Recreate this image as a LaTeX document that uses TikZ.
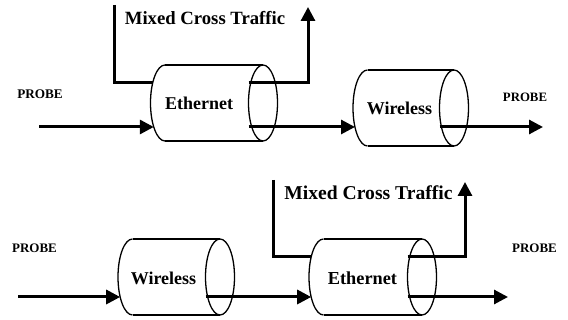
\documentclass[tikz,border=0pt]{standalone}
\usepackage{fontspec}
\setmainfont{Liberation Serif}
\usetikzlibrary{arrows.meta}

% pipe drawn as a cylinder: #1 left cap centre x, #2 right cap centre x, #3 centre y
\newcommand\drawpipe[3]{%
  \draw[pipeline] (#1,#3+38) -- (#2,#3+38)
                  (#1,#3-38) -- (#2,#3-38);
  \draw[pipeline] (#1,#3+38) arc[start angle=90,end angle=270,x radius=14.5,y radius=38];
  \draw[pipeline] (#2,#3) ellipse[x radius=14.5,y radius=38];
}

\begin{document}
\begin{tikzpicture}[x=1pt,y=1pt,
  pipeline/.style={line width=1.3pt},
  flow/.style={line width=3pt,-{Triangle[length=14pt,width=14pt]}},
  feed/.style={line width=3pt},
  label/.style={inner sep=0pt,font=\bfseries}]
\useasboundingbox (0,0) rectangle (568,320);

% ---------- upper path: Ethernet then Wireless ----------
\drawpipe{165}{263}{217}
\drawpipe{367.5}{454}{212}

\node[label,font=\bfseries\fontsize{18}{20}\selectfont] (eth1) at (199,217) {Ethernet};
\node[label,font=\bfseries\fontsize{18}{20}\selectfont] (wl1) at (399.5,212) {Wireless};
\node[label,font=\bfseries\fontsize{18.7}{20}\selectfont] (mix1) at (205,302) {Mixed Cross Traffic};
\node[label,font=\bfseries\fontsize{13.2}{15}\selectfont] (pin1) at (40,226) {PROBE};
\node[label,font=\bfseries\fontsize{12.8}{15}\selectfont] (pout1) at (525,223) {PROBE};

\coordinate (src1) at (39,193);
\coordinate (ethin1) at (153.8,193);
\coordinate (ethout1) at (248.5,193);
\coordinate (wlin1) at (355,193);
\coordinate (wlout1) at (439.5,193);
\coordinate (dst1) at (543,193);
\coordinate (xsrc1) at (114,315);
\coordinate (xin1) at (152.7,237);
\coordinate (xout1) at (248.5,237);
\coordinate (xdst1) at (308,313);

\draw[flow] (src1) -- (ethin1);
\draw[flow] (ethout1) -- (wlin1);
\draw[flow] (wlout1) -- (dst1);
\draw[feed] (xsrc1) |- (xin1);
\draw[flow] (xout1) -| (xdst1);

% ---------- lower path: Wireless then Ethernet ----------
\drawpipe{132.5}{220}{43}
\drawpipe{323.5}{422}{43}

\node[label,font=\bfseries\fontsize{18}{20}\selectfont] (wl2) at (163.5,42) {Wireless};
\node[label,font=\bfseries\fontsize{18.3}{20}\selectfont] (eth2) at (362.5,42) {Ethernet};
\node[label,font=\bfseries\fontsize{19.6}{21}\selectfont] (mix2) at (368.5,127) {Mixed Cross Traffic};
\node[label,font=\bfseries\fontsize{13}{15}\selectfont] (pin2) at (34.5,72) {PROBE};
\node[label,font=\bfseries\fontsize{13}{15}\selectfont] (pout2) at (534.5,72) {PROBE};

\coordinate (src2) at (18,23);
\coordinate (wlin2) at (120.2,23);
\coordinate (wlout2) at (205.5,23);
\coordinate (ethin2) at (311.2,23);
\coordinate (ethout2) at (407.5,23);
\coordinate (dst2) at (508,23);
\coordinate (xsrc2) at (273,140);
\coordinate (xin2) at (311.2,63);
\coordinate (xout2) at (407.5,63);
\coordinate (xdst2) at (465,138);

\draw[flow] (src2) -- (wlin2);
\draw[flow] (wlout2) -- (ethin2);
\draw[flow] (ethout2) -- (dst2);
\draw[feed] (xsrc2) |- (xin2);
\draw[flow] (xout2) -| (xdst2);
\end{tikzpicture}
\end{document}
